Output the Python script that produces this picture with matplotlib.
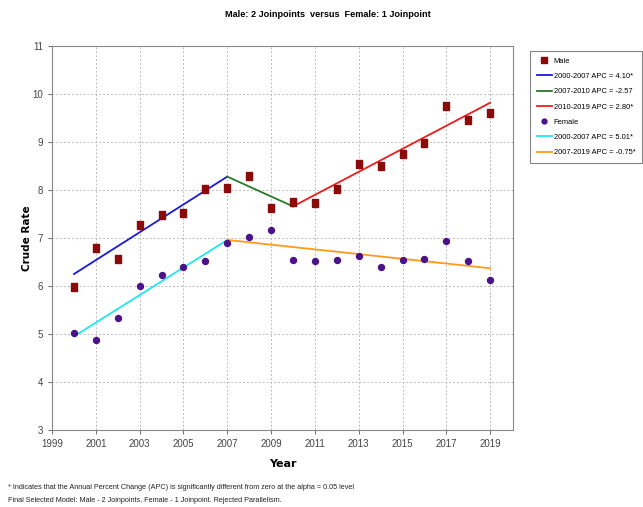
import matplotlib
matplotlib.use("Agg")
import matplotlib.pyplot as plt
from matplotlib.lines import Line2D
from matplotlib import font_manager

# narrow font if present, else Liberation Sans
names = {f.name for f in font_manager.fontManager.ttflist}
narrow = "Liberation Sans Narrow" if "Liberation Sans Narrow" in names else "Liberation Sans"
plt.rcParams['font.family'] = [narrow, 'DejaVu Sans']

# observed crude rates
years = list(range(2000, 2020))
male = [5.97, 6.80, 6.57, 7.27, 7.48, 7.52, 8.03, 8.05, 8.30, 7.63,
        7.76, 7.72, 8.03, 8.54, 8.50, 8.75, 8.99, 9.75, 9.45, 9.60]
female = [5.02, 4.87, 5.33, 6.01, 6.22, 6.39, 6.52, 6.90, 7.02, 7.17,
          6.54, 6.52, 6.54, 6.62, 6.39, 6.54, 6.57, 6.93, 6.52, 6.12]

# fitted joinpoint segments (start year, end year, start value, end value)
male_segs = [(2000, 2007, 6.25, 8.28), (2007, 2010, 8.28, 7.66), (2010, 2019, 7.66, 9.82)]
female_segs = [(2000, 2007, 4.95, 6.96), (2007, 2019, 6.96, 6.37)]
male_labels = ["2000-2007 APC = 4.10*", "2007-2010 APC = -2.57", "2010-2019 APC = 2.80*"]
female_labels = ["2000-2007 APC = 5.01*", "2007-2019 APC = -0.75*"]
male_colors = ["#1a1ad6", "#2a7a2a", "#f01c1c"]
female_colors = ["#1ee8ee", "#ff9a1a"]

xticks = list(range(1999, 2020, 2))
yticks = list(range(3, 12))

# tall rectangle marker like the original
rect = [(-0.8, -1), (0.8, -1), (0.8, 1), (-0.8, 1), (-0.8, -1)]

fig = plt.figure(figsize=(6.43, 5.07), dpi=100)
ax = fig.add_axes([0.081, 0.152, 0.717, 0.757])

for (x0, x1, y0, y1), c in zip(male_segs, male_colors):
    ax.plot([x0, x1], [y0, y1], color=c, lw=1.3, zorder=2)
for (x0, x1, y0, y1), c in zip(female_segs, female_colors):
    ax.plot([x0, x1], [y0, y1], color=c, lw=1.3, zorder=2)

ax.plot(years, male, ls="none", marker=rect, markersize=5.2, color="#8b0a0a", zorder=3)
ax.plot(years, female, ls="none", marker="o", markersize=4.3, color="#4b1289", zorder=3)

ax.set_xlim(1999, 2020.05)
ax.set_ylim(3, 11)
ax.set_xticks(xticks)
ax.set_yticks(yticks)
ax.grid(True, color="#bbbbbb", ls=(0, (2, 2)), lw=0.7)
ax.set_axisbelow(True)
for s in ax.spines.values():
    s.set_color("#888888")
ax.tick_params(colors="#555555", labelsize=7, length=3, width=0.6)
for lab in ax.get_xticklabels() + ax.get_yticklabels():
    lab.set_color("#444444")

ax.set_xlabel("Year", fontsize=8, fontweight="bold", labelpad=7, family="DejaVu Sans")
ax.set_ylabel("Crude Rate", fontsize=7.5, fontweight="bold", labelpad=0, family="DejaVu Sans")

fig.text(0.51, 0.972, "Male: 2 Joinpoints  versus  Female: 1 Joinpoint",
         ha="center", va="center", fontsize=6.6, fontweight="bold")

handles = [Line2D([], [], marker=rect, ls="none", color="#8b0a0a", markersize=4.8)]
handles += [Line2D([], [], color=c, lw=1.3) for c in male_colors]
handles += [Line2D([], [], marker="o", ls="none", color="#4b1289", markersize=3.5)]
handles += [Line2D([], [], color=c, lw=1.3) for c in female_colors]
labels = ["Male"] + male_labels + ["Female"] + female_labels
leg = fig.legend(handles, labels, loc="upper left", bbox_to_anchor=(0.824, 0.9),
                 fontsize=5.4, frameon=True, fancybox=False, handlelength=2.0,
                 handletextpad=0.3, labelspacing=1.07, borderpad=0.9,
                 borderaxespad=0)
leg.get_frame().set_edgecolor("#666666")
leg.get_frame().set_linewidth(0.8)

fig.text(0.012, 0.036, "* Indicates that the Annual Percent Change (APC) is significantly different from zero at the alpha = 0.05 level",
         fontsize=5.2, color="#222222")
fig.text(0.012, 0.009, "Final Selected Model: Male - 2 Joinpoints, Female - 1 Joinpoint. Rejected Parallelism.",
         fontsize=5.2, color="#222222")

fig.savefig("out.png", dpi=100)
